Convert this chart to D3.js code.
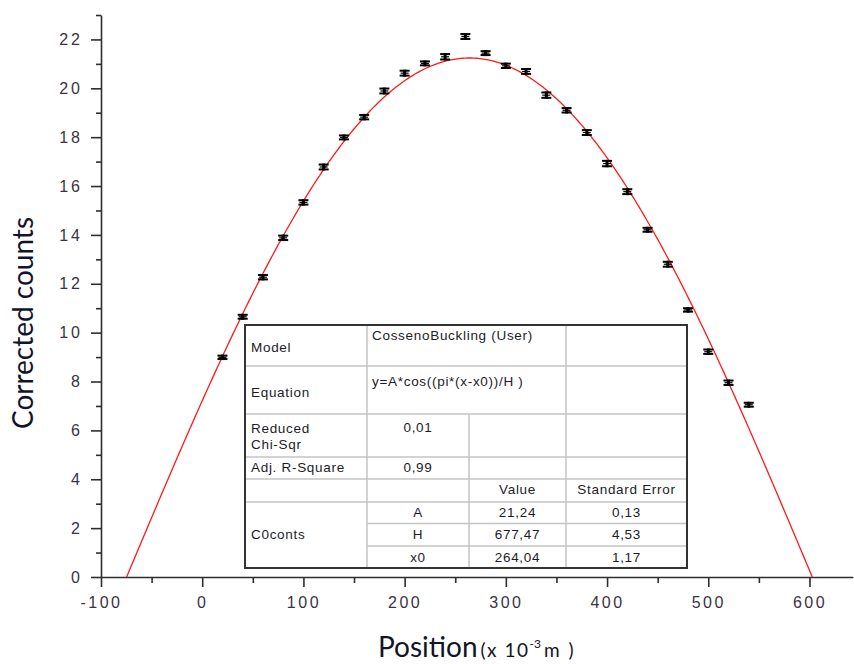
<!DOCTYPE html>
<html>
<head>
<meta charset="utf-8">
<script src="https://cdn.jsdelivr.net/npm/d3@7/dist/d3.min.js"></script>
<style>
  html, body { margin: 0; padding: 0; background: #fff; }
  svg { display: block; }
  .tick text { font-family: "Liberation Sans", Arial, sans-serif; }
</style>
</head>
<body>
<svg id="chart" width="854" height="664"></svg>
<script>
// Measured positions (x 10^-3 m)
const positions = [20, 40, 60, 80, 100, 120, 140, 160, 180, 200, 220, 240, 260, 280,
                   300, 320, 340, 360, 380, 400, 420, 440, 460, 480, 500, 520, 540];
// Corrected counts at each position
const counts = [8.99, 10.65, 12.27, 13.88, 15.33, 16.78, 17.99, 18.82, 19.89, 20.62,
                21.02, 21.29, 22.12, 21.44, 20.92, 20.69, 19.72, 19.10, 18.19, 16.92,
                15.77, 14.21, 12.80, 10.93, 9.22, 7.95, 7.05];
// Uncertainty of each count
const errors = [0.07, 0.08, 0.09, 0.09, 0.09, 0.10, 0.08, 0.09, 0.10, 0.10,
                0.08, 0.11, 0.10, 0.08, 0.09, 0.10, 0.11, 0.09, 0.10, 0.11,
                0.10, 0.08, 0.10, 0.07, 0.09, 0.09, 0.08];

// Tick values
const xMajorTicks = [-100, 0, 100, 200, 300, 400, 500, 600];
const xMinorTicks = [-50, 50, 150, 250, 350, 450, 550];
const yMajorTicks = [0, 2, 4, 6, 8, 10, 12, 14, 16, 18, 20, 22];
const yMinorTicks = [1, 3, 5, 7, 9, 11, 13, 15, 17, 19, 21, 23];

// Fit results: y = A*cos(pi*(x-x0)/H)
const fitA = 21.24, fitH = 677.47, fitX0 = 264.04;
const fitModel = "CossenoBuckling (User)";
const fitEquation = "y=A*cos((pi*(x-x0))/H )";
const fitChiSqr = "0,01";
const fitAdjR2 = "0,99";
const fitParamNames = ["A", "H", "x0"];
const fitParamValues = ["21,24", "677,47", "264,04"];
const fitParamErrors = ["0,13", "4,53", "1,17"];

const svg = d3.select("#chart");

const x = d3.scaleLinear().domain([-100, 643]).range([101, 853]);
const y = d3.scaleLinear().domain([0, 23]).range([577, 15]);

const axisColor = "#2e2e2e";
const labelColor = "#3a3344";
const plain = d => String(d);

// ---- axes ----
const xAxisG = svg.append("g").attr("transform", `translate(0,${y(0)})`);
xAxisG.call(d3.axisBottom(x).tickValues(xMajorTicks).tickSize(10).tickSizeOuter(0).tickPadding(10)
  .tickFormat(plain));
xAxisG.append("g").call(d3.axisBottom(x).tickValues(xMinorTicks).tickSize(6).tickFormat(""))
  .select(".domain").remove();

const yAxisG = svg.append("g").attr("transform", `translate(${x(-100)},0)`);
yAxisG.call(d3.axisLeft(y).tickValues(yMajorTicks).tickSize(10).tickSizeOuter(0).tickPadding(8)
  .tickFormat(plain));
yAxisG.append("g").call(d3.axisLeft(y).tickValues(yMinorTicks).tickSize(5).tickFormat(""))
  .select(".domain").remove();

svg.selectAll(".domain").attr("stroke", axisColor).attr("stroke-width", 1.6);
svg.selectAll(".tick line").attr("stroke", axisColor).attr("stroke-width", 1.6);
svg.selectAll(".tick text")
  .attr("fill", labelColor)
  .attr("font-size", 16)
  .style("letter-spacing", "2.5px");
yAxisG.selectAll(".tick text").style("letter-spacing", "3px");

// ---- fitted curve ----
const xStart = fitX0 - fitH / 2, xEnd = fitX0 + fitH / 2;
const curvePts = d3.range(0, 401).map(i => {
  const xv = xStart + (xEnd - xStart) * i / 400;
  return [xv, Math.max(0, fitA * Math.cos(Math.PI * (xv - fitX0) / fitH))];
});
svg.append("path")
  .datum(curvePts)
  .attr("fill", "none")
  .attr("stroke", "#ff1a1a")
  .attr("stroke-width", 1.3)
  .attr("d", d3.line().x(d => x(d[0])).y(d => y(d[1])));

// ---- data with error bars ----
const pts = positions.map((p, i) => ({ p, c: counts[i], e: errors[i] }));
const eb = svg.append("g").attr("stroke", "#000");
const capHalf = 5;
const bars = eb.selectAll("g").data(pts).join("g");
bars.append("line")
  .attr("x1", d => x(d.p)).attr("x2", d => x(d.p))
  .attr("y1", d => y(d.c - d.e) + 1).attr("y2", d => y(d.c + d.e) - 1)
  .attr("stroke-width", 3);
bars.append("line")
  .attr("x1", d => x(d.p) - capHalf).attr("x2", d => x(d.p) + capHalf)
  .attr("y1", d => y(d.c + d.e)).attr("y2", d => y(d.c + d.e))
  .attr("stroke-width", 2);
bars.append("line")
  .attr("x1", d => x(d.p) - capHalf).attr("x2", d => x(d.p) + capHalf)
  .attr("y1", d => y(d.c - d.e)).attr("y2", d => y(d.c - d.e))
  .attr("stroke-width", 2);
bars.append("line")
  .attr("x1", d => x(d.p) - capHalf + 1).attr("x2", d => x(d.p) + capHalf - 1)
  .attr("y1", d => y(d.c)).attr("y2", d => y(d.c))
  .attr("stroke-width", 1.2);

// ---- axis titles ----
svg.append("text")
  .attr("transform", "translate(33,323) rotate(-90)")
  .attr("text-anchor", "middle")
  .attr("font-family", "Lato, 'Open Sans', sans-serif")
  .attr("font-size", 28)
  .attr("fill", "#141428")
  .text("Corrected counts");

const xt = svg.append("text")
  .attr("x", 378).attr("y", 657)
  .attr("font-family", "Lato, 'Open Sans', sans-serif")
  .attr("fill", "#141428");
xt.append("tspan").attr("font-size", 28).text("Position");
xt.append("tspan").attr("font-size", 19).attr("dx", 3)
  .style("letter-spacing", "1.5px").text("(x 10");
xt.append("tspan").attr("font-size", 12).attr("dy", -9).text("-3");
xt.append("tspan").attr("font-size", 19).attr("dy", 9).attr("dx", 3)
  .style("letter-spacing", "2px").text("m )");

// ---- fit results table ----
const tbl = svg.append("g");
const cx = [245, 367, 469, 566, 687];
const ry = [325, 366, 414, 457, 479, 502, 523.5, 546, 568];
tbl.append("rect")
  .attr("x", cx[0]).attr("y", ry[0])
  .attr("width", cx[4] - cx[0]).attr("height", ry[8] - ry[0])
  .attr("fill", "#fff");

const gridColor = "#c4c4c4";
const hLines = [[cx[0], ry[1]], [cx[0], ry[2]], [cx[0], ry[3]], [cx[0], ry[4]], [cx[0], ry[5]],
                [cx[1], ry[6]], [cx[1], ry[7]]];
tbl.selectAll("line.h").data(hLines).join("line")
  .attr("x1", d => d[0]).attr("x2", cx[4])
  .attr("y1", d => d[1]).attr("y2", d => d[1])
  .attr("stroke", gridColor).attr("stroke-width", 1.5);
const vLines = [[cx[1], ry[0]], [cx[2], ry[2]], [cx[3], ry[0]]];
tbl.selectAll("line.v").data(vLines).join("line")
  .attr("x1", d => d[0]).attr("x2", d => d[0])
  .attr("y1", d => d[1]).attr("y2", ry[8])
  .attr("stroke", gridColor).attr("stroke-width", 1.5);
tbl.append("rect")
  .attr("x", cx[0]).attr("y", ry[0])
  .attr("width", cx[4] - cx[0]).attr("height", ry[8] - ry[0])
  .attr("fill", "none").attr("stroke", "#333").attr("stroke-width", 2);

function cell(txt, xx, yy, anchor) {
  tbl.append("text")
    .attr("x", xx).attr("y", yy)
    .attr("dy", "0.35em")
    .attr("text-anchor", anchor || "start")
    .attr("font-family", "'Liberation Sans', Arial, sans-serif")
    .attr("font-size", 13.5)
    .attr("fill", "#1c1c28")
    .style("letter-spacing", "0.7px")
    .text(txt);
}
const c1 = (cx[1] + cx[2]) / 2, c2 = (cx[2] + cx[3]) / 2, c3 = (cx[3] + cx[4]) / 2;
cell("Model", 251, 347);
cell(fitModel, 372, 335);
cell("Equation", 251, 392);
cell(fitEquation, 372, 381);
cell("Reduced", 251, 428);
cell("Chi-Sqr", 251, 444);
cell(fitChiSqr, c1, 427, "middle");
cell("Adj. R-Square", 251, 467);
cell(fitAdjR2, c1, 467, "middle");
cell("Value", c2, 489, "middle");
cell("Standard Error", c3, 489, "middle");
cell("C0conts", 251, 534);
fitParamNames.forEach((n, i) => {
  const yy = (ry[5 + i] + ry[6 + i]) / 2;
  cell(n, c1, yy, "middle");
  cell(fitParamValues[i], c2, yy, "middle");
  cell(fitParamErrors[i], c3, yy, "middle");
});
</script>
</body>
</html>
